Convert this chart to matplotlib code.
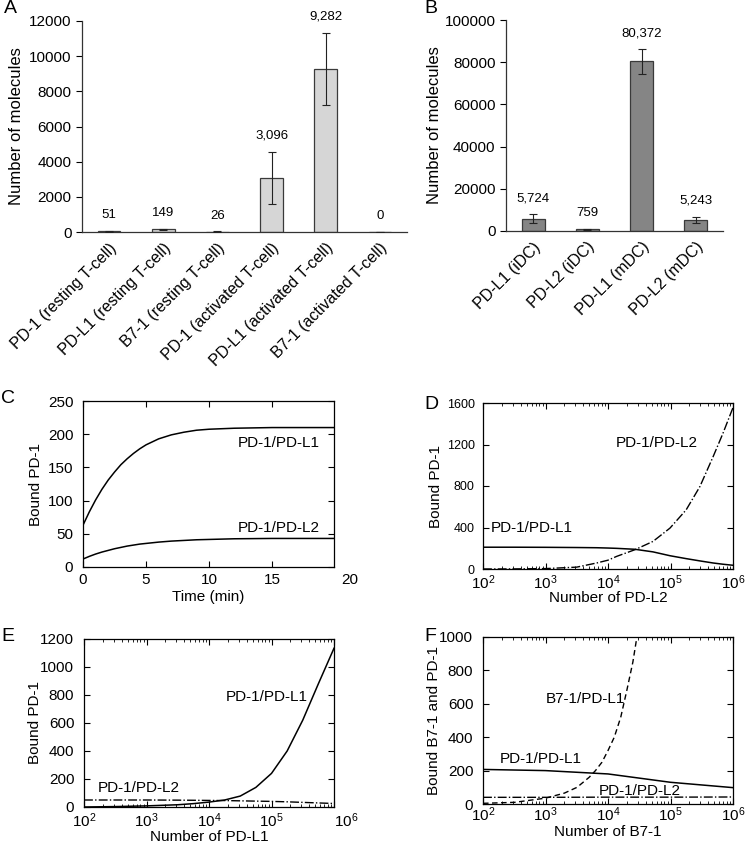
"""PD-1 / PD-L1 / PD-L2 molecule counts and binding model curves (panels A-F)."""

import matplotlib
matplotlib.use('Agg')
import matplotlib.pyplot as plt
import numpy as np

plt.rcParams['font.family'] = ['Liberation Sans', 'DejaVu Sans']
plt.rcParams['mathtext.default'] = 'regular'
plt.rcParams['font.size'] = 10

# ---- panel A: T-cell expression
a_labels = ['PD-1 (resting T-cell)', 'PD-L1 (resting T-cell)', 'B7-1 (resting T-cell)',
            'PD-1 (activated T-cell)', 'PD-L1 (activated T-cell)', 'B7-1 (activated T-cell)']
a_values = [51, 149, 26, 3096, 9282, 0]
a_errors = [25, 20, 12, 1480, 2060, 0]
a_texts = ['51', '149', '26', '3,096', '9,282', '0']

# ---- panel B: dendritic cell expression
b_labels = ['PD-L1 (iDC)', 'PD-L2 (iDC)', 'PD-L1 (mDC)', 'PD-L2 (mDC)']
b_values = [5724, 759, 80372, 5243]
b_errors = [2150, 400, 5900, 1600]
b_texts = ['5,724', '759', '80,372', '5,243']

# ---- panel C: time course
c_time = [0, 0.5, 1, 1.5, 2, 2.5, 3, 3.5, 4, 4.5, 5, 6, 7, 8, 9, 10, 12, 15, 19.9]
c_pdl1 = [63, 83, 101, 117, 131, 143, 154, 163, 171, 178, 184, 193, 199, 203, 206, 207.5, 209, 210, 210]
c_pdl2 = [12, 16, 19.5, 22.5, 25, 27.5, 29.5, 31.5, 33, 34.5, 35.5, 37.5, 39, 40, 41, 41.5, 42.5, 43, 43]

# ---- panel D: vary PD-L2
d_n = [1e2, 3.16e2, 1e3, 3.16e3, 6.6e3, 1e4, 1.38e4, 2.7e4, 5.25e4, 9.8e4,
       1.78e5, 2.95e5, 4.8e5, 6.9e5, 1e6]
d_pdl1 = [210, 210, 209, 207, 205, 202, 199, 190, 165, 128, 100, 78, 58, 46, 36]
d_pdl2 = [0, 1, 4, 18, 58, 85, 122, 186, 266, 394, 570, 794, 1082, 1307, 1556]

# ---- panel E: vary PD-L1
e_n = [1e2, 3.16e2, 1e3, 3.16e3, 5.62e3, 1e4, 1.78e4, 3.16e4, 5.62e4, 1e5,
       1.78e5, 3.16e5, 5.62e5, 1e6]
e_pdl1 = [0, 3, 8, 16, 24, 35, 50, 78, 140, 240, 400, 620, 880, 1134]
e_pdl2 = [50, 50, 50, 49, 48, 47, 46, 44, 42, 40, 37, 33, 29, 25]

# ---- panel F: vary B7-1
f_n = [1e2, 3.2e2, 1e3, 2e3, 3.2e3, 5e3, 6.3e3, 8e3, 1e4, 1.26e4, 1.6e4, 2e4, 2.5e4, 3.2e4]
f_b71 = [4, 10, 35, 65, 100, 160, 200, 250, 320, 400, 520, 680, 850, 1100]
f_n2 = [1e2, 1e3, 1e4, 1e5, 1e6]
f_pdl1 = [207, 200, 180, 130, 98]
f_pdl2 = [40, 40, 41, 41, 42]

W, H = 745, 844
fig = plt.figure(figsize=(W / 100, H / 100), dpi=100)


def box(l, r, t, b):
    return [l / W, 1 - b / H, (r - l) / W, (b - t) / H]


def letter(x, y, s):
    fig.text(x / W, 1 - y / H, s, fontsize=14, va='top', ha='left')


def bar_panel(ax, labels, values, errors, texts, color, ymax, step):
    x = np.arange(len(values))
    ax.bar(x, values, width=0.42, color=color, edgecolor='#3a3a3a', linewidth=0.9, zorder=2)
    ax.errorbar(x, values, yerr=errors, fmt='none', ecolor='#222222', elinewidth=0.8,
                capsize=3, capthick=0.8, zorder=3)
    pad = 0.075 * ymax
    for xi, v, e, t in zip(x, values, errors, texts):
        ax.text(xi, v + e + pad, t, ha='center', va='center', fontsize=9.5, clip_on=False)
    ax.set_xlim(-0.5, len(values) - 0.5)
    ax.set_ylim(0, ymax)
    ax.set_yticks(np.arange(0, ymax + 1, step))
    ax.set_xticks(x)
    ax.set_xticklabels(labels, rotation=45, ha='right', rotation_mode='anchor', fontsize=11.5)
    ax.tick_params(axis='x', length=0, pad=6)
    ax.tick_params(axis='y', direction='out', length=4, width=0.8, labelsize=11)
    for s in ['top', 'right']:
        ax.spines[s].set_visible(False)
    for s in ['left', 'bottom']:
        ax.spines[s].set_color('#333333')
        ax.spines[s].set_linewidth(0.9)
    ax.set_ylabel('Number of molecules', fontsize=12)


def matlab_style(ax):
    ax.tick_params(which='both', direction='in', top=True, right=True, labelsize=11, pad=4)
    ax.tick_params(which='major', length=4, width=0.8)
    ax.tick_params(which='minor', length=2, width=0.6)
    ax.tick_params(axis='y', which='major', pad=7)
    for s in ax.spines.values():
        s.set_linewidth(0.9)


# A
ax = fig.add_axes(box(82, 407, 21, 232))
bar_panel(ax, a_labels, a_values, a_errors, a_texts, '#d6d6d6', 12000, 2000)
ax.yaxis.set_label_coords(-0.178, 0.5)
letter(4, 0, 'A')

# B
ax = fig.add_axes(box(506, 723, 20, 231))
bar_panel(ax, b_labels, b_values, b_errors, b_texts, '#858585', 100000, 20000)
ax.yaxis.set_label_coords(-0.295, 0.5)
letter(424, 0, 'B')

# C
ax = fig.add_axes(box(83, 334, 401, 567))
ax.plot(c_time, c_pdl1, color='black', lw=1.1)
ax.plot(c_time, c_pdl2, color='black', lw=1.1)
ax.set_xlim(0, 19.9)
ax.set_ylim(0, 250)
ax.set_xticks([0, 5, 10, 15])
ax.set_yticks(np.arange(0, 251, 50))
matlab_style(ax)
ax.annotate('20', xy=(1.064, 0), xycoords='axes fraction', xytext=(0, -4),
            textcoords='offset points', ha='center', va='top', fontsize=11)
ax.text(15.5, 187, 'PD-1/PD-L1', ha='center', va='center', fontsize=11)
ax.text(15.5, 58, 'PD-1/PD-L2', ha='center', va='center', fontsize=11)
ax.set_xlabel('Time (min)', fontsize=11)
ax.xaxis.set_label_coords(0.5, -0.139)
ax.set_ylabel('Bound PD-1', fontsize=11)
ax.yaxis.set_label_coords(-0.16, 0.5)
letter(1, 390, 'C')

# D (y tick labels are printed smaller in the original)
ax = fig.add_axes(box(483, 733, 403, 569))
ax.semilogx(d_n, d_pdl1, color='black', lw=1.1)
ax.semilogx(d_n, d_pdl2, color='black', lw=1.0, ls='-.')
ax.set_xlim(1e2, 1e6)
ax.set_ylim(0, 1600)
ax.set_yticks(np.arange(0, 1601, 400))
matlab_style(ax)
ax.tick_params(axis='y', which='major', labelsize=9, pad=6)
ax.tick_params(axis='x', which='major', pad=3)
ax.text(6e2, 395, 'PD-1/PD-L1', ha='center', va='center', fontsize=11)
ax.text(6e4, 1216, 'PD-1/PD-L2', ha='center', va='center', fontsize=11)
ax.set_xlabel('Number of PD-L2', fontsize=11)
ax.xaxis.set_label_coords(0.5, -0.1325)
ax.set_ylabel('Bound PD-1', fontsize=11)
ax.yaxis.set_label_coords(-0.16, 0.5)
letter(424, 396, 'D')

# E
ax = fig.add_axes(box(84, 334, 639, 807))
ax.semilogx(e_n, e_pdl1, color='black', lw=1.1)
ax.semilogx(e_n, e_pdl2, color='black', lw=1.0, ls='-.')
ax.set_xlim(1e2, 1e6)
ax.set_ylim(0, 1200)
ax.set_yticks(np.arange(0, 1201, 200))
ax.set_xticks([1e2, 1e3, 1e4, 1e5, 1e6],
              labels=['$10^2$', '$10^3$', '$10^4$', '$10^5$', ''])
matlab_style(ax)
ax.tick_params(axis='x', which='major', pad=3)
ax.annotate('$10^6$', xy=(1.05, 0), xycoords='axes fraction', xytext=(0, -3),
            textcoords='offset points', ha='center', va='top', fontsize=11)
ax.text(8.3e4, 784, 'PD-1/PD-L1', ha='center', va='center', fontsize=11)
ax.text(7.5e2, 135, 'PD-1/PD-L2', ha='center', va='center', fontsize=11)
ax.set_xlabel('Number of PD-L1', fontsize=11)
ax.xaxis.set_label_coords(0.5, -0.134)
ax.set_ylabel('Bound PD-1', fontsize=11)
ax.yaxis.set_label_coords(-0.168, 0.5)
letter(1, 628, 'E')

# F
ax = fig.add_axes(box(483, 733, 637, 804))
ax.semilogx(f_n2, f_pdl1, color='black', lw=1.1)
ax.semilogx(f_n2, f_pdl2, color='black', lw=1.0, ls='-.')
ax.semilogx(f_n, f_b71, color='black', lw=1.0, ls=(0, (4, 2.5)))
ax.set_xlim(1e2, 1e6)
ax.set_ylim(0, 1000)
ax.set_yticks(np.arange(0, 1001, 200))
matlab_style(ax)
ax.tick_params(axis='x', which='major', pad=1)
ax.text(8.5e2, 268, 'PD-1/PD-L1', ha='center', va='center', fontsize=11)
ax.text(4.3e3, 628, 'B7-1/PD-L1', ha='center', va='center', fontsize=11)
ax.text(3.2e4, 78, 'PD-1/PD-L2', ha='center', va='center', fontsize=11)
ax.set_xlabel('Number of B7-1', fontsize=11)
ax.xaxis.set_label_coords(0.5, -0.125)
ax.set_ylabel('Bound B7-1 and PD-1', fontsize=11)
ax.yaxis.set_label_coords(-0.168, 0.5)
letter(424, 628, 'F')

fig.savefig('out.png', dpi=100)
